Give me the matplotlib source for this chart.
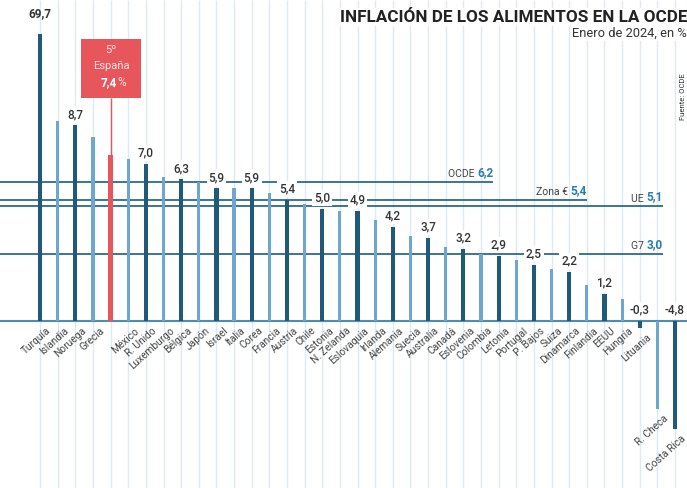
import matplotlib
matplotlib.use("Agg")
import matplotlib.pyplot as plt
from matplotlib.patches import Rectangle
import numpy as np

plt.rcParams['font.family'] = ['Roboto', 'DejaVu Sans']

countries = ["Turquía", "Islandia", "Noruega", "Grecia", "España", "México", "R. Unido",
             "Luxemburgo", "Bélgica", "Japón", "Israel", "Italia", "Corea", "Francia",
             "Austria", "Chile", "Estonia", "N. Zelanda", "Eslovaquia", "Irlanda",
             "Alemania", "Suecia", "Australia", "Canadá", "Eslovenia", "Colombia",
             "Letonia", "Portugal", "P. Bajos", "Suiza", "Dinamarca", "Finlandia",
             "EEUU", "Hungría", "Lituania", "R. Checa", "Costa Rica"]
values = [69.7, 8.9, 8.7, 8.2, 7.4, 7.2, 7.0, 6.4, 6.3, 6.2, 5.9, 5.9, 5.9, 5.7,
          5.4, 5.2, 5.0, 4.9, 4.9, 4.5, 4.2, 3.8, 3.7, 3.3, 3.2, 3.0, 2.9, 2.7,
          2.5, 2.3, 2.2, 1.6, 1.2, 1.0, -0.3, -3.9, -4.8]
labeled = ["Turquía", "Noruega", "R. Unido", "Bélgica", "Israel", "Corea", "Austria",
           "Estonia", "Eslovaquia", "Alemania", "Australia", "Eslovenia", "Letonia",
           "P. Bajos", "Dinamarca", "EEUU", "Lituania", "Costa Rica"]
highlight = "España"
ref_names = ["OCDE", "Zona €", "UE", "G7"]
ref_values = [6.2, 5.4, 5.1, 3.0]
ref_ends = [25.7, 31.0, 35.3, 35.3]

DARK = "#1f5b78"
LIGHT = "#6ea7cd"
RED = "#e6565b"
LINE = "#2b6b8b"
NUMBLUE = "#2a7db3"
GRID = "#dde9f3"
CAP = 12.75

fig = plt.figure(figsize=(6.87, 4.88), dpi=100)
ax = fig.add_axes([0, 0, 1, 1])
ax.set_xlim(-2.27, 36.68)
ax.set_ylim(-7.42, 14.27)
ax.axis("off")

x = np.arange(len(countries))

# background vertical guides
ax.vlines(x, -7.42, 14.27, color=GRID, lw=1.0, zorder=0)

# reference lines
for name, v, end in zip(ref_names, ref_values, ref_ends):
    ax.hlines(v, -2.27, end, color=LINE, lw=1.3, zorder=1)
    t = ax.annotate(f"{v:.1f}".replace(".", ","), xy=(end, v), xytext=(0, 2),
                    textcoords="offset points", ha="right", va="bottom",
                    fontsize=8.5, fontweight="bold", color=NUMBLUE, zorder=3)
    ax.annotate(name + " ", xy=(0, 0), xycoords=t, ha="right", va="bottom",
                fontsize=7.5, color="#444444", zorder=3)

# baseline
ax.hlines(0, -2.27, 36.68, color="#4d8db5", lw=1.5, zorder=2)

# bars
clip_rect = Rectangle((-5, -10), 50, CAP + 10, transform=ax.transData)
for i, (c, v) in enumerate(zip(countries, values)):
    if c == highlight:
        col, w = RED, 0.24
    elif c in labeled:
        col, w = DARK, 0.24
    else:
        col, w = LIGHT, 0.18
    b = ax.bar(i, v, width=w, color=col, zorder=4)
    if v > CAP:
        b[0].set_clip_path(clip_rect)
    if c in labeled and 0 <= v <= CAP:
        ax.annotate(f"{v:.1f}".replace(".", ","), xy=(i, v), xytext=(0, 3),
                    textcoords="offset points", ha="center", va="bottom",
                    fontsize=8.5, fontweight="medium", color="#333333", zorder=5,
                    bbox=dict(boxstyle="square,pad=0.15", fc="white", ec="none"))
    if c != highlight:
        ylab = min(v, 0) - 0.2
        ax.text(i + 0.35, ylab, c, rotation=42, ha="right", va="top",
                fontsize=7.3, color="#444444", rotation_mode="anchor", zorder=5)

# labels for the negative values placed above the baseline
for c in ["Lituania", "Costa Rica"]:
    i = countries.index(c)
    v = values[i]
    ax.annotate(f"{v:.1f}".replace(".", ","), xy=(i, 0), xytext=(0, 3),
                textcoords="offset points", ha="center", va="bottom",
                fontsize=8.5, fontweight="medium", color="#333333", zorder=5,
                bbox=dict(boxstyle="square,pad=0.15", fc="white", ec="none"))

# Turquía label at the top
ax.annotate(f"{values[0]:.1f}".replace(".", ","), xy=(0, CAP), xytext=(0, 10),
            textcoords="offset points", ha="center", va="bottom",
            fontsize=8.5, fontweight="bold", color="#333333", zorder=5)

# España call-out box
ie = countries.index(highlight)
ax.vlines(ie, values[ie], 9.9, color=RED, lw=1.0, zorder=3)
ax.add_patch(Rectangle((ie - 1.68, 9.9), 3.4, 2.65, facecolor=RED, edgecolor="none", zorder=5))
ax.text(ie + 0.02, 12.05, "5º", ha="center", va="center", fontsize=8, color="#ffe3e3", zorder=6)
ax.text(ie + 0.02, 11.35, highlight, ha="center", va="center", fontsize=8, color="#ffe3e3", zorder=6)
t74 = ax.text(ie - 0.1, 10.6, f"{values[ie]:.1f}".replace(".", ","), ha="center", va="center",
              fontsize=8.5, fontweight="bold", color="white", zorder=6)
ax.annotate("%", xy=(1, 0), xycoords=t74, ha="left", va="bottom",
            fontsize=8.5, color="#ffe3e3", zorder=6)

# titles
fig.text(1.0, 1 - 17 / 488, "INFLACIÓN DE LOS ALIMENTOS EN LA OCDE", ha="right", va="center",
         fontsize=12.3, fontweight="bold", color="#222222",
         bbox=dict(boxstyle="square,pad=0.1", fc="white", ec="none"))
fig.text(1.0, 1 - 33 / 488, "Enero de 2024, en %", ha="right", va="center",
         fontsize=9.3, color="#333333",
         bbox=dict(boxstyle="square,pad=0.1", fc="white", ec="none"))
fig.text(683 / 687, 1 - 97 / 488, "Fuente: OCDE", rotation=90, ha="center", va="center",
         fontsize=5.5, color="#333333")

fig.savefig("out.png", dpi=100)
